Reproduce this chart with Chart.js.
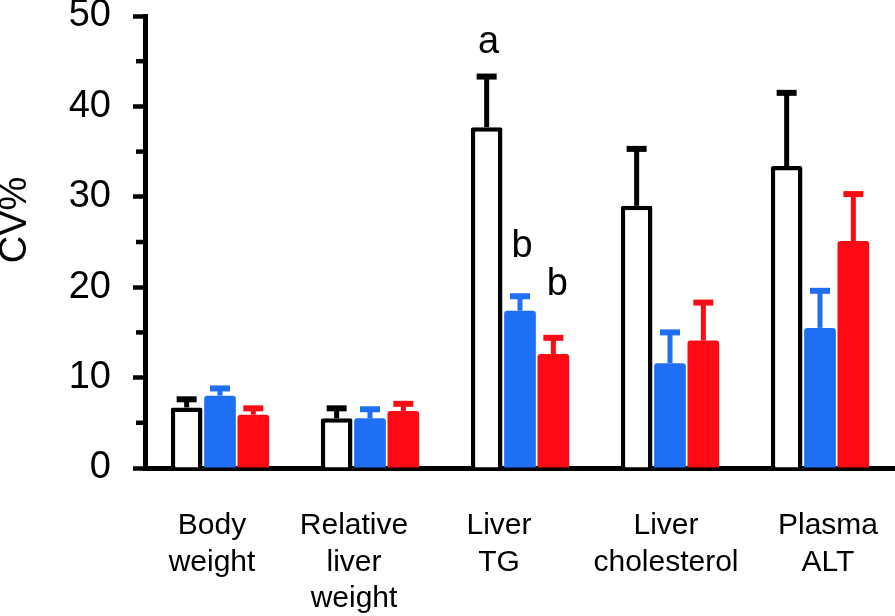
<!DOCTYPE html>
<html>
<head>
<meta charset="utf-8">
<script src="https://cdn.jsdelivr.net/npm/chart.js@4"></script>
<style>
  html, body { margin: 0; padding: 0; background: #fff; }
  #wrap { width: 895px; height: 616px; }
</style>
</head>
<body>
<div id="wrap"><canvas id="cvChart" width="895" height="616"></canvas></div>
<script>
// data
const categories = [
    ['Body', 'weight'],
    ['Relative', 'liver', 'weight'],
    ['Liver', 'TG'],
    ['Liver', 'cholesterol'],
    ['Plasma', 'ALT']
];
const blackValues = [6.7, 5.5, 37.7, 29.0, 33.4];
const blackErrors = [0.9, 1.1, 5.6, 6.3, 8.1];
const blueValues = [8.0, 5.5, 17.4, 11.6, 15.5];
const blueErrors = [0.8, 1.0, 1.6, 3.4, 4.1];
const redValues = [5.9, 6.3, 12.6, 14.1, 25.1];
const redErrors = [0.7, 0.8, 1.8, 4.2, 5.2];
const blackLetters = ['', '', 'a', '', ''];
const blueLetters = ['', '', 'b', '', ''];
const redLetters = ['', '', 'b', '', ''];
const yTicks = [0, 10, 20, 30, 40, 50];
const yMinorTicks = [5, 15, 25, 35, 45];

const FONT = "'Liberation Sans', Arial, sans-serif";
const BLUE = '#1f6ff5';
const RED = '#ff0a14';
// the original labels sit a little off the group centres
const labelShift = [-8, -16, -21, -4, 8];

// error bars (upper only) + significance letters
const errorBars = {
    id: 'errorBars',
    afterDatasetsDraw(chart) {
        const ctx = chart.ctx;
        const y = chart.scales.y;
        const gaps = [24, 39, 43];
        chart.data.datasets.forEach((ds, di) => {
            const meta = chart.getDatasetMeta(di);
            meta.data.forEach((bar, i) => {
                const top = y.getPixelForValue(ds.data[i] + ds.errors[i]);
                ctx.save();
                ctx.strokeStyle = ds.errColor;
                ctx.lineWidth = 5;
                ctx.beginPath();
                ctx.moveTo(bar.x, bar.y);
                ctx.lineTo(bar.x, top);
                ctx.stroke();
                ctx.lineWidth = 6;
                ctx.beginPath();
                ctx.moveTo(bar.x - 10, top);
                ctx.lineTo(bar.x + 10, top);
                ctx.stroke();
                if (ds.letters[i]) {
                    ctx.fillStyle = '#000';
                    ctx.font = '38px ' + FONT;
                    ctx.textAlign = 'center';
                    ctx.textBaseline = 'alphabetic';
                    ctx.fillText(ds.letters[i], bar.x + (di === 2 ? 4 : 2), top - gaps[di]);
                }
                ctx.restore();
            });
        });
    }
};

// minor ticks, rotated axis title, category labels
const axisExtras = {
    id: 'axisExtras',
    afterDraw(chart) {
        const ctx = chart.ctx;
        const x = chart.scales.x;
        const y = chart.scales.y;
        const left = chart.chartArea.left;
        ctx.save();
        ctx.strokeStyle = '#000';
        ctx.lineWidth = 4.5;
        yMinorTicks.forEach(v => {
            const py = y.getPixelForValue(v);
            ctx.beginPath();
            ctx.moveTo(left - 9, py);
            ctx.lineTo(left, py);
            ctx.stroke();
        });

        ctx.fillStyle = '#000';
        ctx.font = '30px ' + FONT;
        ctx.textAlign = 'center';
        ctx.textBaseline = 'alphabetic';
        chart.data.labels.forEach((lines, i) => {
            const cx = x.getPixelForValue(i) + labelShift[i];
            lines.forEach((t, j) => {
                ctx.fillText(t, cx, x.top + 66 + j * 36.5);
            });
        });

        ctx.translate(16, 220);
        ctx.rotate(-Math.PI / 2);
        ctx.font = '38px ' + FONT;
        ctx.textBaseline = 'middle';
        ctx.fillText('CV%', 0, 0);
        ctx.restore();
    }
};

new Chart(document.querySelector('#cvChart'), {
    type: 'bar',
    data: {
        labels: categories,
        datasets: [{
            label: 'black',
            data: blackValues,
            errors: blackErrors,
            letters: blackLetters,
            errColor: '#000',
            backgroundColor: '#ffffff',
            borderColor: '#000',
            borderWidth: 4.5,
            borderRadius: 2,
            borderSkipped: 'start'
        }, {
            label: 'blue',
            data: blueValues,
            errors: blueErrors,
            letters: blueLetters,
            errColor: BLUE,
            backgroundColor: BLUE,
            borderWidth: 0,
            borderRadius: 3,
            borderSkipped: 'start'
        }, {
            label: 'red',
            data: redValues,
            errors: redErrors,
            letters: redLetters,
            errColor: RED,
            backgroundColor: RED,
            borderWidth: 0,
            borderRadius: 3,
            borderSkipped: 'start'
        }]
    },
    options: {
        responsive: false,
        animation: false,
        devicePixelRatio: 1,
        layout: { padding: 0 },
        datasets: { bar: { categoryPercentage: 0.667, barPercentage: 0.95 } },
        plugins: {
            legend: { display: false },
            tooltip: { enabled: false }
        },
        scales: {
            x: {
                z: 1,
                grid: { display: false },
                border: { display: true, color: '#000', width: 5 },
                ticks: { display: false },
                afterFit(scale) {
                    scale.height = 148;
                    scale.paddingLeft = 0;
                    scale.paddingRight = 0;
                }
            },
            y: {
                min: 0,
                max: 50,
                afterBuildTicks(scale) { scale.ticks = yTicks.map(v => ({ value: v })); },
                grid: {
                    drawOnChartArea: false,
                    drawTicks: true,
                    tickLength: 12,
                    tickWidth: 4.5,
                    tickColor: '#000'
                },
                border: { display: true, color: '#000', width: 5 },
                ticks: {
                    color: '#000',
                    padding: 22,
                    font: { family: FONT, size: 38, lineHeight: 0.9 }
                },
                afterFit(scale) {
                    scale.width = 145;
                    scale.paddingTop = 16;
                    scale.paddingBottom = 0;
                }
            }
        }
    },
    plugins: [errorBars, axisExtras]
});
</script>
</body>
</html>
